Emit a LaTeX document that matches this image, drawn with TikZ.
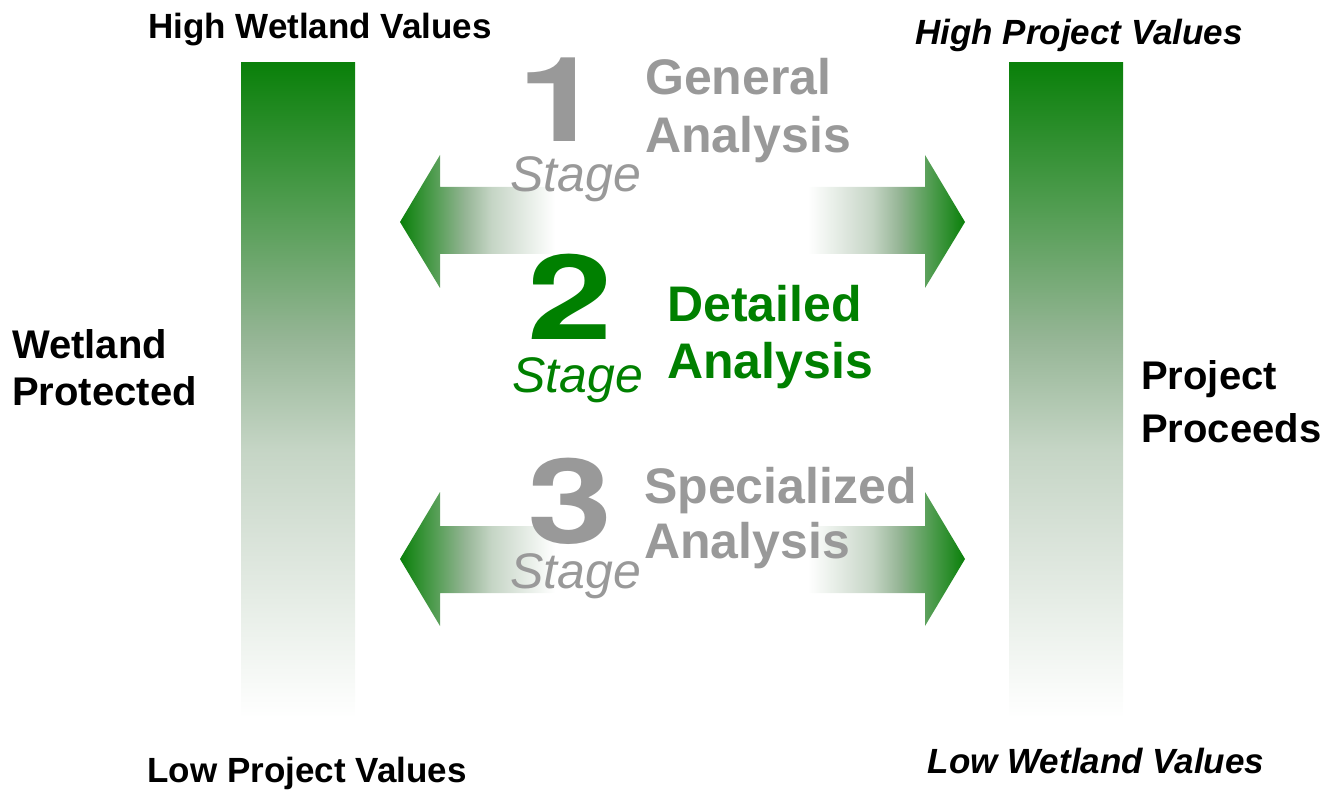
\documentclass[tikz,border=0pt]{standalone}
\usepackage{fontspec}
\usepackage{graphicx}
\setmainfont{Liberation Sans}
\newfontfamily\digitfont{TeX Gyre Heros}
\usetikzlibrary{positioning}

\definecolor{wetgreen}{RGB}{10,128,10}
\definecolor{fadeA}{RGB}{74,154,74}
\definecolor{fadeB}{RGB}{149,181,149}
\definecolor{fadeC}{RGB}{197,213,197}
\definecolor{fadeD}{RGB}{216,226,216}
\definecolor{fadeE}{RGB}{234,240,234}
\definecolor{textgreen}{RGB}{0,128,0}
\definecolor{stagegray}{RGB}{153,153,153}

% green to white, through a greyish green
\pgfdeclarehorizontalshading{fadetoleft}{100bp}{color(0bp)=(wetgreen); color(25bp)=(wetgreen);
  color(35bp)=(fadeA); color(46bp)=(fadeB); color(54.5bp)=(fadeC); color(61bp)=(fadeD);
  color(67.5bp)=(fadeE); color(75bp)=(white); color(100bp)=(white)}
\pgfdeclarehorizontalshading{fadetoright}{100bp}{color(0bp)=(white); color(25bp)=(white);
  color(32.5bp)=(fadeE); color(39bp)=(fadeD); color(45.5bp)=(fadeC); color(54bp)=(fadeB);
  color(65bp)=(fadeA); color(75bp)=(wetgreen); color(100bp)=(wetgreen)}
\pgfdeclareverticalshading{fadetotop}{100bp}{color(0bp)=(white); color(25bp)=(white);
  color(32.5bp)=(fadeE); color(39bp)=(fadeD); color(45.5bp)=(fadeC); color(54bp)=(fadeB);
  color(65bp)=(fadeA); color(75bp)=(wetgreen); color(100bp)=(wetgreen)}

\tikzset{
  endlabel/.style={font=\bfseries\fontsize{35}{42}\selectfont, inner sep=0pt},
  sidelabel/.style={font=\bfseries\fontsize{40}{46}\selectfont, inner sep=0pt, anchor=base west},
  digit/.style={font=\digitfont\bfseries\fontsize{118}{120}\selectfont, inner sep=0pt, anchor=base},
  stageword/.style={font=\itshape\fontsize{50}{56}\selectfont, inner sep=0pt, anchor=base west},
  title/.style={font=\bfseries\fontsize{50}{56}\selectfont, inner sep=0pt, anchor=base west},
  bar/.style={shading=fadetotop},
  fadeleft/.style={shading=fadetoleft},
  faderight/.style={shading=fadetoright}
}

\begin{document}
\begin{tikzpicture}[x=1pt, y=-1pt]
        \useasboundingbox (0,0) rectangle (1336,794);

        % value bars
        \shade[bar] (241,63) rectangle (355,718);
        \shade[bar] (1009,63) rectangle (1123,718);

        % arrows, stage 1
        \shade[fadeleft] (400,222) -- (440,155) -- (440,187) -- (555,187)
              -- (555,254) -- (440,254) -- (440,288) -- cycle;
        \shade[faderight] (965,222) -- (925,155) -- (925,187) -- (808,187)
              -- (808,254) -- (925,254) -- (925,288) -- cycle;

        % arrows, stage 3
        \shade[fadeleft] (400,559) -- (440,492) -- (440,526) -- (555,526)
              -- (555,593) -- (440,593) -- (440,626) -- cycle;
        \shade[faderight] (965,559) -- (925,492) -- (925,526) -- (808,526)
              -- (808,593) -- (925,593) -- (925,626) -- cycle;

        % end labels
        \node[endlabel, anchor=base] (hw) at (320,39) {High Wetland Values};
        \node[endlabel, anchor=base] (lp) at (307,782) {Low Project Values};
        \node[endlabel, anchor=base] (hp) at (1079,45) {\itshape High Project Values};
        \node[endlabel, anchor=base] (lw) at (1096,773) {\itshape Low Wetland Values};

        \node[sidelabel] (wp1) at (12,359) {Wetland};
        \node[sidelabel] (wp2) at (12,405) {Protected};
        \node[sidelabel] (pp1) at (1141,389) {Project};
        \node[sidelabel] (pp2) at (1141,442) {Proceeds};

        % stage 1
        \node[digit, text=stagegray] (n1) at (560,142) {\scalebox{1.3}[1]{1}};
        \node[stageword, text=stagegray] (s1) at (510,192) {Stage};
        \node[title, text=stagegray] (g1) at (645,95) {General};
        \node[title, text=stagegray] (g2) at (645,153) {Analysis};

        % stage 2
        \node[digit, text=textgreen] (n2) at (570,340) {\scalebox{1.3}[1]{2}};
        \node[stageword, text=textgreen] (s2) at (512,392) {Stage};
        \node[title, text=textgreen] (d1) at (667,322) {Detailed};
        \node[title, text=textgreen] (d2) at (667,378) {Analysis};

        % stage 3
        \node[digit, text=stagegray] (n3) at (570,543) {\scalebox{1.3}[1]{3}};
        \node[stageword, text=stagegray] (s3) at (510,588) {Stage};
        \node[title, text=stagegray] (p1) at (644,503) {Specialized};
        \node[title, text=stagegray] (p2) at (644,558) {Analysis};
\end{tikzpicture}
\end{document}
